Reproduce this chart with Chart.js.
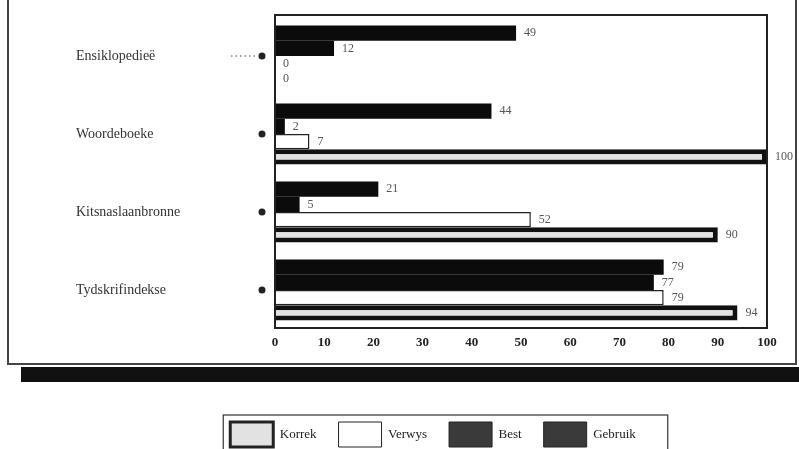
<!DOCTYPE html>
<html>
<head>
<meta charset="utf-8">
<script src="https://cdn.jsdelivr.net/npm/chart.js@4.4.0/dist/chart.umd.min.js"></script>
<style>
  html, body { margin: 0; padding: 0; background: #fff; overflow: hidden; }
  #frame { position: absolute; left: 7px; top: -4px; width: 790px; height: 369px; border: 2px solid #444; box-sizing: border-box; }
  #shadow { position: absolute; left: 21px; top: 367px; width: 778px; height: 15px; background: #111; }
  #wrap { position: absolute; left: 0; top: 0; width: 799px; height: 457px; }
</style>
</head>
<body>
<div id="frame"></div>
<div id="shadow"></div>
<div id="wrap"><canvas id="chart"></canvas></div>
<script>
// categories (top to bottom)
const categories = ['Ensiklopedieë', 'Woordeboeke', 'Kitsnaslaanbronne', 'Tydskrifindekse'];

// series values per category (%)
const korrek  = [0, 100, 90, 94];
const verwys  = [0, 7, 52, 79];
const best    = [12, 2, 5, 77];
const gebruik = [49, 44, 21, 79];

const xTicks = [0, 10, 20, 30, 40, 50, 60, 70, 80, 90, 100];

const serif = "'Liberation Serif', 'DejaVu Serif', serif";

// bars stack top->bottom in dataset order, legend reads the other way
const datasets = [
  { label: 'Gebruik', data: gebruik, backgroundColor: '#0b0b0b', borderWidth: 0, legendFill: '#3a3a3a' },
  { label: 'Best', data: best, backgroundColor: '#0b0b0b', borderWidth: 0, legendFill: '#3a3a3a' },
  { label: 'Verwys', data: verwys, backgroundColor: '#ffffff', borderColor: '#222', borderWidth: 1.5, legendFill: '#ffffff' },
  { label: 'Korrek', data: korrek, backgroundColor: '#e2e2e2', borderColor: '#111', borderWidth: 5, legendFill: '#e2e2e2' }
];

// frame round the plot + category dots
const plotDecor = {
  id: 'plotDecor',
  afterDraw(chart) {
    const { ctx, chartArea: a } = chart;
    const yScale = chart.scales.y;
    ctx.save();
    ctx.strokeStyle = '#222';
    ctx.lineWidth = 2;
    ctx.strokeRect(a.left, a.top - 2, a.right - a.left, a.bottom - a.top + 1);

    ctx.fillStyle = '#222';
    categories.forEach((c, i) => {
      const y = yScale.getPixelForValue(i);
      ctx.beginPath();
      ctx.arc(a.left - 13, y, 3.5, 0, Math.PI * 2);
      ctx.fill();
    });
    // dotted leader on first row
    const y0 = yScale.getPixelForValue(0);
    ctx.setLineDash([1.5, 3]);
    ctx.lineWidth = 1;
    ctx.strokeStyle = '#444';
    ctx.beginPath();
    ctx.moveTo(a.left - 44, y0);
    ctx.lineTo(a.left - 18, y0);
    ctx.stroke();
    ctx.restore();
  }
};

// numbers at bar ends
const valueLabels = {
  id: 'valueLabels',
  afterDatasetsDraw(chart) {
    const { ctx } = chart;
    ctx.save();
    ctx.font = '12px ' + serif;
    ctx.fillStyle = '#555';
    ctx.textAlign = 'left';
    ctx.textBaseline = 'middle';
    chart.data.datasets.forEach((ds, di) => {
      chart.getDatasetMeta(di).data.forEach((bar, i) => {
        ctx.fillText(String(ds.data[i]), bar.x + 8, bar.y);
      });
    });
    ctx.restore();
  }
};

// box round the legend
const legendBox = {
  id: 'legendBox',
  afterDraw(chart) {
    const hb = chart.legend.legendHitBoxes;
    if (!hb || !hb.length) return;
    const left = Math.min(...hb.map(h => h.left)) - 7;
    const right = Math.max(...hb.map(h => h.left + h.width)) + 32;
    const top = hb[0].top - 7;
    const { ctx } = chart;
    ctx.save();
    ctx.strokeStyle = '#333';
    ctx.lineWidth = 1.2;
    ctx.strokeRect(left, top, right - left, 60);
    ctx.restore();
  }
};

new Chart(document.getElementById('chart'), {
  type: 'bar',
  data: { labels: categories, datasets },
  options: {
    indexAxis: 'y',
    responsive: true,
    maintainAspectRatio: false,
    animation: false,
    categoryPercentage: 0.785,
    barPercentage: 1.0,
    layout: { padding: { left: 76, top: 17, right: 9, bottom: 0 } },
    scales: {
      x: {
        min: 0,
        max: 100,
        afterBuildTicks: (scale) => { scale.ticks = xTicks.map(v => ({ value: v })); },
        afterFit: (scale) => { scale.height = 71; },
        grid: { display: false, drawTicks: false },
        border: { display: false },
        ticks: { padding: 6, color: '#222', font: { family: serif, size: 13, weight: 'bold' } }
      },
      y: {
        afterFit: (scale) => { scale.width = 199; },
        grid: { display: false, drawTicks: false },
        border: { display: false },
        ticks: { crossAlign: 'far', padding: 0, color: '#333', font: { family: serif, size: 14 } }
      },
      // empty spacer on the right so the legend sits where the original has it
      yR: {
        type: 'linear',
        axis: 'y',
        position: 'right',
        afterFit: (scale) => { scale.width = 23; },
        grid: { display: false, drawTicks: false },
        border: { display: false },
        ticks: { display: false }
      }
    },
    plugins: {
      tooltip: { enabled: false },
      legend: {
        position: 'bottom',
        labels: {
          boxWidth: 43,
          boxHeight: 25,
          padding: 22,
          color: '#222',
          font: { family: serif, size: 13 },
          sort: (a, b) => b.datasetIndex - a.datasetIndex,
          generateLabels: (chart) => chart.data.datasets.map((ds, i) => ({
            text: ds.label,
            datasetIndex: i,
            fillStyle: ds.legendFill,
            strokeStyle: '#222',
            lineWidth: ds.label === 'Korrek' ? 3 : 1,
            fontColor: '#222',
            hidden: false
          }))
        }
      }
    }
  },
  plugins: [plotDecor, valueLabels, legendBox]
});
</script>
</body>
</html>
